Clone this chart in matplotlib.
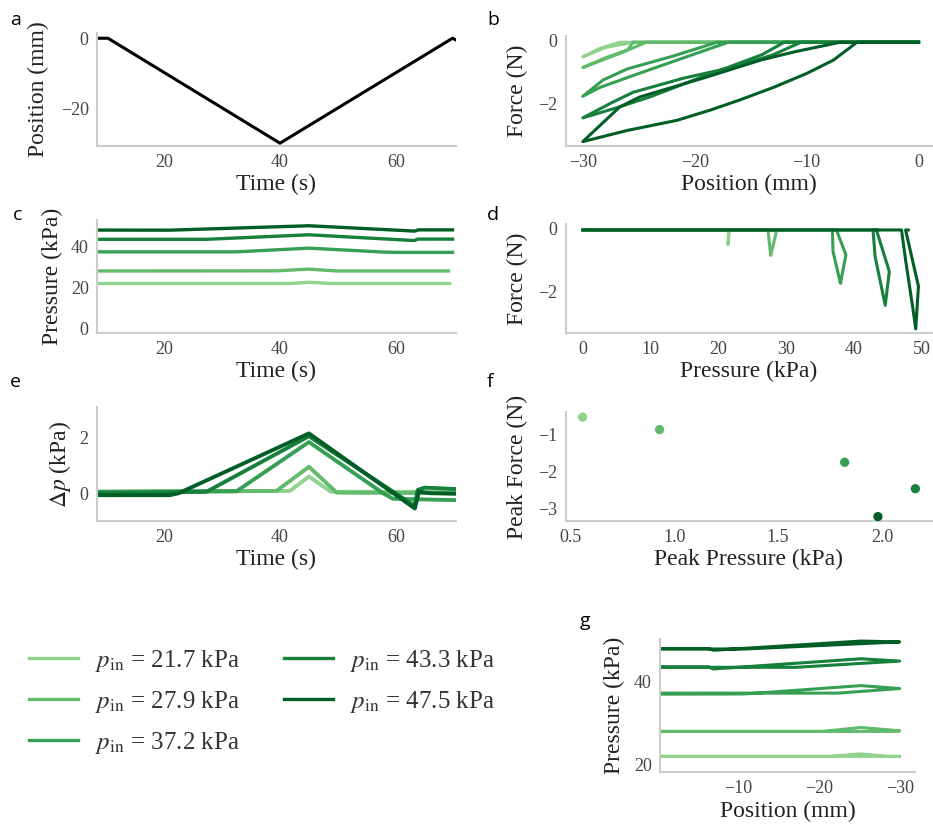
import numpy as np
import matplotlib
matplotlib.use("Agg")
import matplotlib.pyplot as plt

plt.rcParams["font.family"] = "serif"
plt.rcParams["font.serif"] = ["Liberation Serif", "DejaVu Serif"]
plt.rcParams["mathtext.fontset"] = "stix"

# -------------------- DATA --------------------

p_in = [21.7, 27.9, 37.2, 43.3, 47.5]

# a: stage position over time
time_a = [8.4, 10.3, 40.0, 69.8, 70.4]
pos_a = [0.0, 0.0, -30.0, 0.0, -0.5]

# b: force vs position (one path per inlet pressure)
b_pos = [
    [0, -26.7, -28.5, -30, -28.0, -25.5, 0],
    [0, -24.3, -27.0, -30, -28.0, -26.0, -25.5, 0],
    [0, -17.0, -21.0, -25.0, -28.5, -30, -28.2, -26.0, -22.0, -18.0, 0],
    [0, -12.0, -14.0, -17.0, -20.0, -24.0, -27.0, -30, -27.5, -25.5, -21.0, -16.0, -13.0, -10.5, 0],
    [0, -5.5, -7.6, -10.0, -13.0, -16.0, -18.6, -21.6, -26.0, -30, -26.7, -24.9, -18.9, -14.1, -11.0, -7.0, 0],
]
b_force = [
    [-0.05, -0.05, -0.25, -0.52, -0.22, -0.05, -0.05],
    [-0.05, -0.05, -0.45, -0.86, -0.55, -0.3, -0.05, -0.05],
    [-0.05, -0.05, -0.55, -1.05, -1.5, -1.78, -1.26, -0.9, -0.5, -0.05, -0.05],
    [-0.05, -0.05, -0.45, -0.85, -1.25, -1.8, -2.15, -2.47, -2.0, -1.65, -1.2, -0.8, -0.45, -0.05, -0.05],
    [-0.05, -0.05, -0.62, -1.05, -1.5, -1.9, -2.22, -2.55, -2.87, -3.23, -2.12, -1.8, -1.16, -0.62, -0.35, -0.05, -0.05],
]

# c: pressure over time
c_time = [
    [8.4, 41.7, 45.0, 48.8, 69.3],
    [8.4, 39.4, 45.0, 49.8, 69.1],
    [8.4, 32.5, 45.0, 57.8, 60.0, 69.8],
    [8.4, 27.3, 45.0, 63.2, 63.8, 69.8],
    [8.4, 21.0, 45.0, 63.3, 63.9, 69.8],
]
c_pres = [
    [22.1, 22.1, 22.7, 22.1, 22.1],
    [28.2, 28.25, 29.1, 28.2, 28.2],
    [37.5, 37.5, 39.3, 37.4, 37.25, 37.25],
    [43.6, 43.6, 45.8, 43.0, 43.7, 43.7],
    [48.1, 48.05, 50.2, 47.6, 48.2, 48.2],
]

# d: force vs pressure
d_pres = [
    [0, 21.5, 21.4, 21.6, 21.7],
    [0, 27.3, 27.7, 28.6, 28.1],
    [0, 36.8, 36.9, 38.0, 38.8, 37.4, 37.0],
    [0, 42.8, 43.1, 44.6, 45.2, 43.3, 43.0, 43.5],
    [0, 47.0, 47.6, 48.7, 49.1, 49.5, 47.6, 48.0],
]
d_force = [
    [-0.05, -0.05, -0.52, -0.05, -0.05],
    [-0.05, -0.05, -0.86, -0.05, -0.05],
    [-0.05, -0.05, -0.74, -1.75, -0.84, -0.05, -0.05],
    [-0.05, -0.05, -0.89, -2.45, -1.37, -0.05, -0.05, -0.05],
    [-0.05, -0.05, -1.0, -2.58, -3.2, -1.84, -0.05, -0.05],
]

# e: pressure change over time
e_time = [
    [8.4, 41.7, 45.0, 48.8, 70.4],
    [8.4, 39.4, 45.0, 49.8, 70.4],
    [8.4, 32.5, 45.0, 57.8, 59.5, 70.4],
    [8.4, 27.3, 45.0, 63.2, 63.8, 65.0, 70.4],
    [8.4, 21.0, 22.5, 45.0, 63.3, 64.0, 66.0, 70.4],
]
e_dp = [
    [0.05, 0.08, 0.6, 0.05, 0.05],
    [0.05, 0.08, 0.95, 0.02, 0.0],
    [0.05, 0.07, 1.84, 0.0, -0.2, -0.25],
    [0.0, 0.05, 2.05, -0.45, 0.12, 0.2, 0.15],
    [-0.07, -0.07, 0.0, 2.15, -0.55, 0.05, 0.0, -0.02],
]

# f: peaks
peak_dp = [0.56, 0.93, 1.82, 2.16, 1.98]
peak_force = [-0.52, -0.86, -1.75, -2.47, -3.23]

# g: pressure vs position
g_pos = [
    [0, -30, -28.6, -25.2, -21.4, 0],
    [0, -29.4, -30, -25.2, -20.4, 0],
    [0, -22.4, -30, -25.2, -12.3, -10.6, 0],
    [0, -17.2, -30, -25.2, -6.9, -6.3, 0],
    [0, -10.8, -30, -25.2, -7.0, -6.2, 0],
]
g_pres = [
    [22.0, 22.0, 22.0, 22.6, 22.0, 22.0],
    [28.0, 28.0, 28.15, 28.95, 28.0, 28.0],
    [37.2, 37.2, 38.3, 39.0, 37.2, 37.0, 36.95],
    [43.4, 43.4, 44.9, 45.45, 43.0, 43.5, 43.5],
    [47.8, 47.8, 49.5, 49.7, 47.5, 47.9, 47.9],
]

legend_labels = [r"$p_{\mathrm{in}}$ = %.1f kPa" % p for p in p_in]

# -------------------- FIGURE --------------------

W, H = 933, 827
fig = plt.figure(figsize=(W / 100, H / 100), dpi=100)
greens = plt.cm.Greens(np.linspace(0.42, 0.92, 5))


def make_axes(box, ylab_x, xlab_y, xlabel, ylabel):
    x0, y0, x1, y1 = box
    ax = fig.add_axes([x0 / W, 1 - y1 / H, (x1 - x0) / W, (y1 - y0) / H])
    for s in ["top", "right"]:
        ax.spines[s].set_visible(False)
    for s in ["left", "bottom"]:
        ax.spines[s].set_color("#cccccc")
        ax.spines[s].set_linewidth(1.5)
    ax.tick_params(length=0, pad=6, labelsize=13, labelcolor="#444444")
    ax.set_xlabel(xlabel, fontsize=17, color="#222222")
    ax.set_ylabel(ylabel, fontsize=17, color="#222222")
    ax.yaxis.label.set_va("center")
    ax.xaxis.label.set_va("center")
    ax.yaxis.set_label_coords((ylab_x - x0) / (x1 - x0), 0.5)
    ax.xaxis.set_label_coords(0.5, (y1 - xlab_y) / (y1 - y0))
    return ax


# a
ax = make_axes((97, 33, 456, 146), 38, 184, "Time (s)", "Position (mm)")
ax.plot(time_a, pos_a, color="black", lw=2.2)
ax.set_xlim(8.4, 70.4)
ax.set_ylim(-30.8, 1.5)
ax.set_xticks([20, 40, 60])
ax.set_yticks([0, -20])

# b
ax = make_axes((566, 36, 932, 146), 517, 184, "Position (mm)", "Force (N)")
for i in range(5):
    ax.plot(b_pos[i], b_force[i], color=greens[i], lw=2.2)
ax.set_xlim(-31.5, 1.2)
ax.set_ylim(-3.37, 0.15)
ax.set_xticks([-30, -20, -10, 0])
ax.set_yticks([0, -2])

# c
ax = make_axes((97, 220, 456, 333), 52, 371, "Time (s)", "Pressure (kPa)")
lines = []
for i in range(5):
    ln, = ax.plot(c_time[i], c_pres[i], color=greens[i], lw=2.4)
    lines.append(ln)
ax.set_xlim(8.4, 70.4)
ax.set_ylim(-2, 53)
ax.set_xticks([20, 40, 60])
ax.set_yticks([0, 20, 40])

# d
ax = make_axes((566, 224, 932, 333), 517, 371, "Pressure (kPa)", "Force (N)")
for i in range(5):
    ax.plot(d_pres[i], d_force[i], color=greens[i], lw=2.2)
ax.set_xlim(-2.5, 51.5)
ax.set_ylim(-3.33, 0.14)
ax.set_xticks([0, 10, 20, 30, 40, 50])
ax.set_yticks([0, -2])

# e
ax = make_axes((97, 407, 456, 521), 60, 559, "Time (s)", r"$\Delta p$ (kPa)")
for i in range(5):
    ax.plot(e_time[i], e_dp[i], color=greens[i], lw=2.8)
ax.set_xlim(8.4, 70.4)
ax.set_ylim(-1, 3.1)
ax.set_xticks([20, 40, 60])
ax.set_yticks([0, 2])

# f
ax = make_axes((566, 412, 932, 521), 517, 559, "Peak Pressure (kPa)", "Peak Force (N)")
ax.scatter(peak_dp, peak_force, c=greens, s=32, zorder=3)
ax.set_xlim(0.48, 2.24)
ax.set_ylim(-3.35, -0.38)
ax.set_xticks([0.5, 1.0, 1.5, 2.0])
ax.set_yticks([-1, -2, -3])

# g
ax = make_axes((660, 639, 915, 772), 614, 811, "Position (mm)", "Pressure (kPa)")
for i in range(5):
    ax.plot(g_pos[i], g_pres[i], color=greens[i], lw=2.2)
ax.set_xlim(-0.3, -31.9)
ax.set_ylim(18.25, 50.2)
ax.set_xticks([-10, -20, -30])
ax.set_yticks([20, 40])

# legend
fig.legend(lines, legend_labels, ncol=2, frameon=False, fontsize=18,
           loc="upper left", bbox_to_anchor=(29 / W, 1 - 648 / H),
           borderpad=0, borderaxespad=0, handlelength=1.95, handletextpad=0.7,
           columnspacing=1.75, labelspacing=0.6, labelcolor="#333333")

# panel letters
letters = ["a", "b", "c", "d", "e", "f", "g"]
letter_xy = [(10, 25), (487, 25), (13, 220), (487, 220), (10, 387), (487, 387), (580, 626)]
for lab, (x, y) in zip(letters, letter_xy):
    fig.text(x / W, 1 - y / H, lab, family="Open Sans", fontsize=14,
             ha="left", va="baseline")

fig.savefig("out.png", dpi=100)
